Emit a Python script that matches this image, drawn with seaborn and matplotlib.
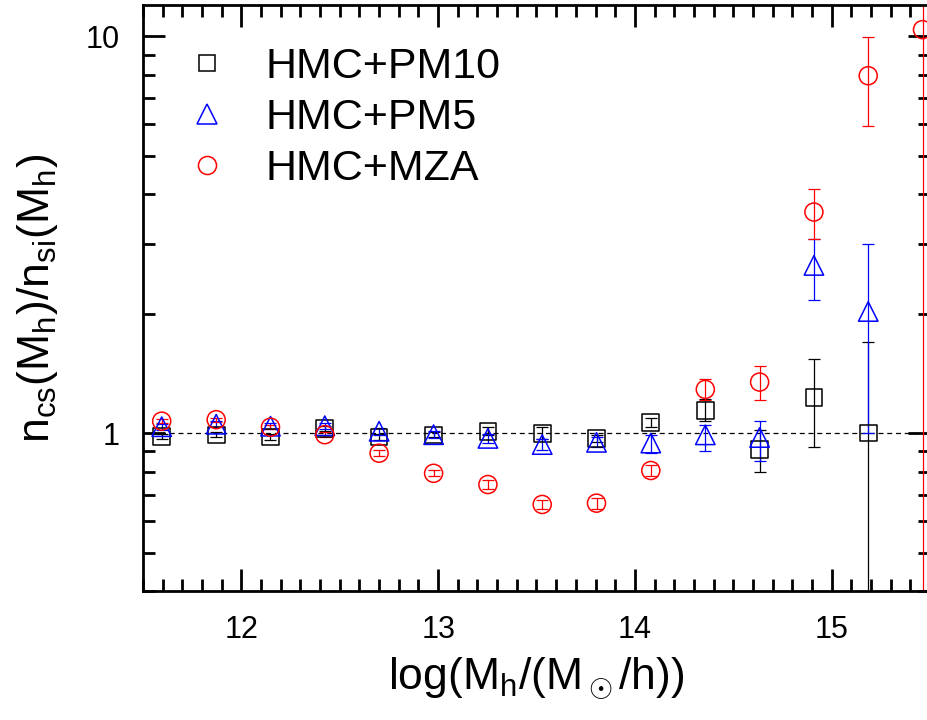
import numpy as np
import pandas as pd
import matplotlib
matplotlib.use("Agg")
import matplotlib.pyplot as plt
from matplotlib.lines import Line2D
import seaborn as sns

# ---------------- data ----------------
x_bins = [11.595, 11.872, 12.148, 12.424, 12.700, 12.977, 13.253, 13.529,
          13.805, 14.081, 14.358, 14.634, 14.910, 15.186, 15.462]

pm10_y  = [0.980, 0.990, 0.977, 1.026, 0.977, 0.990, 1.010, 0.997, 0.970, 1.062, 1.141, 0.908, 1.229, 1.000]
pm10_lo = [0.965, 0.975, 0.960, 1.010, 0.960, 0.975, 0.988, 0.968, 0.950, 1.035, 1.070, 0.800, 0.922, 0.100]
pm10_hi = [0.995, 1.005, 0.995, 1.045, 0.995, 1.005, 1.035, 1.035, 0.990, 1.090, 1.220, 1.016, 1.535, 1.700]

pm5_y  = [1.038, 1.053, 1.041, 1.044, 1.011, 0.991, 0.970, 0.936, 0.948, 0.944, 0.990, 0.975, 2.647, 2.026]
pm5_lo = [1.020, 1.035, 1.022, 1.025, 0.990, 0.970, 0.945, 0.905, 0.920, 0.890, 0.904, 0.850, 2.160, 1.000]
pm5_hi = [1.055, 1.070, 1.060, 1.062, 1.030, 1.012, 0.995, 0.965, 0.980, 0.990, 1.046, 1.070, 3.080, 2.990]

mza_y  = [1.072, 1.081, 1.035, 0.991, 0.890, 0.792, 0.742, 0.661, 0.666, 0.805, 1.289, 1.345, 3.608, 7.960, 10.40]
mza_lo = [1.060, 1.068, 1.022, 0.978, 0.875, 0.778, 0.725, 0.643, 0.645, 0.780, 1.214, 1.210, 3.080, 5.960, 0.100]
mza_hi = [1.085, 1.094, 1.048, 1.004, 0.905, 0.806, 0.760, 0.680, 0.688, 0.830, 1.366, 1.474, 4.120, 9.940, 100.0]

series_names = ["HMC+PM10", "HMC+PM5", "HMC+MZA"]
series_colors = ["black", "blue", "red"]
series_markers = ["s", "^", "o"]
series_sizes = [12, 14, 13]   # marker size in points

# ---------------- style ----------------
sns.set_theme(style="ticks")
plt.rcParams["font.family"] = ["Liberation Sans", "DejaVu Sans"]
plt.rcParams["mathtext.fontset"] = "custom"
plt.rcParams["mathtext.rm"] = "Liberation Sans"
plt.rcParams["mathtext.it"] = "Liberation Sans:italic"
plt.rcParams["text.color"] = "black"
plt.rcParams["axes.labelcolor"] = "black"

fig = plt.figure(figsize=(9.27, 7.20), dpi=100)
ax = fig.add_axes([143/927, (720-591)/720, 787/927, 586/720])
ax.set_yscale("log")

data = [
    (pm10_y, pm10_lo, pm10_hi),
    (pm5_y, pm5_lo, pm5_hi),
    (mza_y, mza_lo, mza_hi),
]

ax.axhline(1.0, color="black", lw=0.9, ls=(0, (4, 3)), zorder=1)

for (yv, lo, hi), name, col, mk, ms in zip(data, series_names, series_colors,
                                           series_markers, series_sizes):
    xv = np.array(x_bins[:len(yv)])
    yv = np.array(yv)
    lo = np.array(lo)
    hi = np.array(hi)
    ax.errorbar(xv, yv, yerr=[yv - lo, hi - yv], fmt="none", ecolor=col,
                elinewidth=0.9, capsize=4.5, capthick=0.9, zorder=2)
    df = pd.DataFrame({"x": xv, "y": yv})
    sns.scatterplot(data=df, x="x", y="y", ax=ax, marker=mk, s=ms**2,
                    facecolor="none", edgecolor=col, linewidth=1.1,
                    zorder=3, legend=False)

ax.set_xlim(11.5, 15.5)
ax.set_ylim(0.4, 12.0)

ax.set_xticks([12, 13, 14, 15])
ax.set_xticks(np.arange(11.5, 15.51, 0.1), minor=True)
ax.set_xticklabels(["12", "13", "14", "15"])
ax.set_yticks([1, 10])
ax.set_yticklabels(["1", "10"])
ax.yaxis.set_minor_locator(matplotlib.ticker.LogLocator(base=10, subs=np.arange(2, 10)))
ax.yaxis.set_minor_formatter(matplotlib.ticker.NullFormatter())

ax.tick_params(which="both", direction="in", top=True, right=True,
               width=2.0, labelsize=22, color="black", labelcolor="black")
ax.tick_params(which="major", length=16, pad=17)
ax.tick_params(which="minor", length=8.5)
for sp in ax.spines.values():
    sp.set_linewidth(2.0)
    sp.set_color("black")

ax.set_xlabel(r"$\mathrm{log(M_h/(M_\odot/h))}$", fontsize=32, labelpad=8, color="black")
ax.set_ylabel(r"$\mathrm{n_{cs}(M_h)/n_{si}(M_h)}$", fontsize=32, labelpad=18, color="black")

handles = [Line2D([], [], ls="none", marker=mk, markersize=ms, mfc="none",
                  mec=col, mew=1.1)
           for mk, col, ms in zip(series_markers, series_colors, series_sizes)]
leg = ax.legend(handles, series_names, loc="upper left", bbox_to_anchor=(0.032, 0.957),
                frameon=False, fontsize=31, handlelength=1.0, handletextpad=0.85,
                labelspacing=0.25, borderaxespad=0.0)
for t in leg.get_texts():
    t.set_color("black")

fig.savefig("out.png", dpi=100)
